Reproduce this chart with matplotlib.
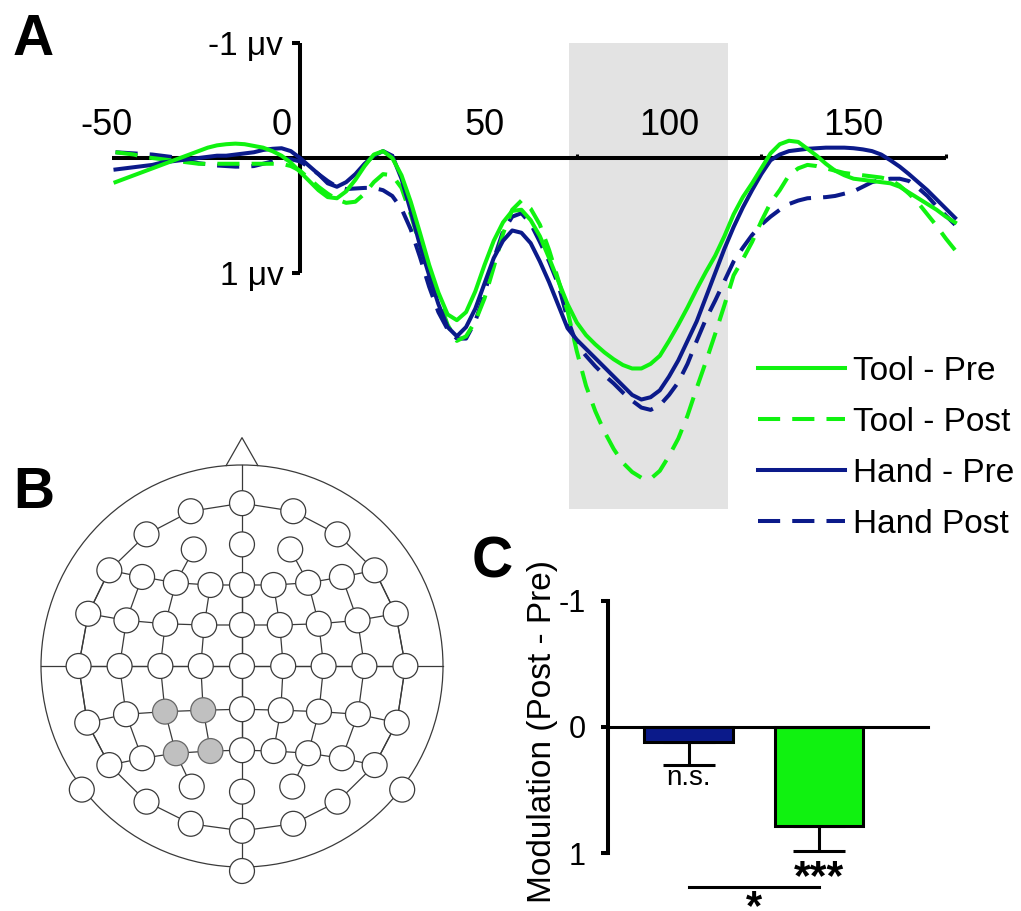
import matplotlib
matplotlib.use('Agg')
import matplotlib.pyplot as plt
import matplotlib.transforms as mtrans
import numpy as np
from matplotlib.patches import Circle

plt.rcParams['font.family'] = ['Liberation Sans', 'DejaVu Sans']
plt.rcParams['axes.unicode_minus'] = False

GREEN = '#10f210'
NAVY = '#0b1a8a'
HEAD_LINE = '#3a3a3a'

# ---------------- panel A: ERP waveforms (ms, uV, positive down) ----------------
times = np.arange(-50, 180, 2.5)

tool_pre = [0.21, 0.18, 0.15, 0.12, 0.09, 0.06, 0.03, 0.00, -0.03, -0.06,
            -0.09, -0.11, -0.12, -0.125, -0.12, -0.105, -0.09, -0.06, -0.02, 0.04,
            0.12, 0.20, 0.28, 0.34, 0.35, 0.29, 0.19, 0.07, -0.03, -0.06,
            0.00, 0.15, 0.38, 0.65, 0.93, 1.17, 1.36, 1.41, 1.34, 1.16,
            0.93, 0.72, 0.56, 0.46, 0.45, 0.54, 0.68, 0.87, 1.07, 1.27,
            1.43, 1.54, 1.62, 1.69, 1.75, 1.80, 1.83, 1.83, 1.79, 1.72,
            1.59, 1.45, 1.30, 1.14, 0.99, 0.85, 0.68, 0.49, 0.34, 0.22,
            0.09, -0.04, -0.12, -0.15, -0.14, -0.08, -0.02, 0.05, 0.11, 0.15,
            0.18, 0.19, 0.20, 0.21, 0.22, 0.25, 0.30, 0.35, 0.40, 0.45,
            0.51, 0.56]

tool_post = [-0.05, -0.04, -0.03, -0.01, 0.00, 0.01, 0.02, 0.03, 0.04, 0.05,
             0.05, 0.05, 0.05, 0.05, 0.05, 0.05, 0.05, 0.05, 0.05, 0.07,
             0.11, 0.18, 0.25, 0.31, 0.36, 0.39, 0.38, 0.31, 0.21, 0.14,
             0.15, 0.26, 0.49, 0.76, 0.99, 1.22, 1.45, 1.59, 1.55, 1.42,
             1.22, 0.95, 0.66, 0.45, 0.37, 0.44, 0.58, 0.80, 1.06, 1.33,
             1.68, 1.98, 2.20, 2.38, 2.53, 2.65, 2.73, 2.78, 2.79, 2.72,
             2.59, 2.44, 2.24, 2.00, 1.77, 1.53, 1.28, 1.02, 0.88, 0.73,
             0.55, 0.39, 0.28, 0.15, 0.09, 0.06, 0.07, 0.09, 0.11, 0.13,
             0.14, 0.15, 0.16, 0.17, 0.19, 0.24, 0.31, 0.39, 0.49, 0.59,
             0.70, 0.80]

hand_pre = [0.10, 0.09, 0.08, 0.07, 0.06, 0.04, 0.03, 0.02, 0.01, 0.00,
            -0.01, -0.02, -0.02, -0.03, -0.04, -0.05, -0.07, -0.08, -0.085, -0.06,
            0.00, 0.07, 0.14, 0.22, 0.25, 0.21, 0.14, 0.05, -0.02, -0.06,
            -0.02, 0.18, 0.46, 0.76, 1.02, 1.27, 1.47, 1.55, 1.47, 1.31,
            1.09, 0.87, 0.72, 0.63, 0.65, 0.74, 0.90, 1.08, 1.28, 1.48,
            1.58, 1.66, 1.74, 1.82, 1.90, 1.98, 2.06, 2.10, 2.08, 2.02,
            1.90, 1.76, 1.59, 1.42, 1.21, 1.00, 0.79, 0.60, 0.43, 0.28,
            0.14, 0.02, -0.03, -0.06, -0.07, -0.08, -0.085, -0.09, -0.09, -0.09,
            -0.085, -0.075, -0.06, -0.03, 0.02, 0.075, 0.14, 0.21, 0.28, 0.36,
            0.44, 0.52]

hand_post = [-0.05, -0.045, -0.04, -0.035, -0.03, -0.02, -0.01, 0.01, 0.03, 0.045,
             0.055, 0.065, 0.07, 0.075, 0.075, 0.07, 0.05, 0.03, 0.01, 0.01,
             0.03, 0.08, 0.14, 0.20, 0.25, 0.27, 0.265, 0.26, 0.26, 0.28,
             0.33, 0.44, 0.62, 0.86, 1.12, 1.34, 1.49, 1.57, 1.57, 1.42,
             1.18, 0.88, 0.64, 0.51, 0.48, 0.57, 0.73, 0.90, 1.10, 1.40,
             1.62, 1.72, 1.81, 1.89, 1.96, 2.04, 2.11, 2.17, 2.19, 2.15,
             2.06, 1.95, 1.79, 1.59, 1.40, 1.24, 1.07, 0.90, 0.78, 0.67,
             0.58, 0.51, 0.45, 0.40, 0.37, 0.35, 0.345, 0.34, 0.33, 0.31,
             0.29, 0.25, 0.21, 0.19, 0.18, 0.18, 0.20, 0.26, 0.33, 0.42,
             0.50, 0.58]

window_ms = [73, 116]      # shaded analysis window
window_uv = (-1.0, 3.05)

# ---------------- panel B: 64-channel montage (head radius = 1) ----------------
left_sites = {
    'Fp1': (-0.255, 0.77), 'AF7': (-0.475, 0.655), 'AF3': (-0.24, 0.58),
    'F7': (-0.66, 0.476), 'F5': (-0.497, 0.443), 'F3': (-0.329, 0.414), 'F1': (-0.157, 0.403),
    'FT7': (-0.765, 0.26), 'FC5': (-0.575, 0.227), 'FC3': (-0.382, 0.21), 'FC1': (-0.188, 0.204),
    'T7': (-0.813, 0.0), 'C5': (-0.609, 0.0), 'C3': (-0.406, 0.0), 'C1': (-0.205, 0.0),
    'TP7': (-0.77, -0.282), 'CP5': (-0.577, -0.24), 'CP3': (-0.383, -0.227), 'CP1': (-0.193, -0.22),
    'P7': (-0.66, -0.493), 'P5': (-0.497, -0.459), 'P3': (-0.329, -0.434), 'P1': (-0.157, -0.423),
    'P9': (-0.797, -0.615), 'PO7': (-0.475, -0.675), 'PO3': (-0.25, -0.60), 'O1': (-0.255, -0.785),
}
mid_sites = {
    'Fpz': (0, 0.81), 'AFz': (0, 0.605), 'Fz': (0, 0.403), 'FCz': (0, 0.204), 'Cz': (0, 0.0),
    'CPz': (0, -0.215), 'Pz': (0, -0.419), 'POz': (0, -0.625), 'Oz': (0, -0.82), 'Iz': (0, -1.02),
}
selected = ['CP3', 'CP1', 'P3', 'P1']

rows = [['F7', 'F5', 'F3', 'F1', 'Fz', 'F2', 'F4', 'F6', 'F8'],
        ['FT7', 'FC5', 'FC3', 'FC1', 'FCz', 'FC2', 'FC4', 'FC6', 'FT8'],
        ['T7', 'C5', 'C3', 'C1', 'Cz', 'C2', 'C4', 'C6', 'T8'],
        ['TP7', 'CP5', 'CP3', 'CP1', 'CPz', 'CP2', 'CP4', 'CP6', 'TP8'],
        ['P7', 'P5', 'P3', 'P1', 'Pz', 'P2', 'P4', 'P6', 'P8']]
ring = ['F8', 'AF8', 'Fp2', 'Fpz', 'Fp1', 'AF7', 'F7', 'FT7', 'T7', 'TP7', 'P7', 'PO7',
        'O1', 'Oz', 'O2', 'PO8', 'P8', 'TP8', 'T8', 'FT8', 'F8']
links = [['AF3', 'F3'], ['AF4', 'F4'], ['P3', 'PO3'], ['P4', 'PO4']]

# ---------------- panel C: modulation bars ----------------
conditions = ['Hand', 'Tool']
modulation = [0.12, 0.785]
modulation_sem = [0.18, 0.20]
stars = ['n.s.', '***']
pair_star = '*'


def mirror(name):
    base = name.rstrip('0123456789')
    return base + str(int(name[len(base):]) + 1)


W, H = 1021, 911
fig = plt.figure(figsize=(W / 100, H / 100), dpi=100)


def px_axes(x0, y0, x1, y1):
    a = fig.add_axes([x0 / W, 1 - y1 / H, (x1 - x0) / W, (y1 - y0) / H])
    a.patch.set_visible(False)
    return a


def px_shift(dx, dy):
    return mtrans.ScaledTranslation(dx / 100, -dy / 100, fig.dpi_scale_trans)


# ---- A
ax = px_axes(100, 30, 965, 515)
ax.set_xlim(-54.2, 180.2)
ax.set_ylim(3.104, -1.113)
ax.fill_between(window_ms, window_uv[0], window_uv[1], color='#e3e3e3', lw=0, zorder=0)

dash = (0, (5.5, 3))
l_hpost, = ax.plot(times, hand_post, color=NAVY, lw=2.9, ls=dash, zorder=3)
l_tpost, = ax.plot(times, tool_post, color=GREEN, lw=2.9, ls=dash, zorder=3)
l_hpre, = ax.plot(times, hand_pre, color=NAVY, lw=2.9, zorder=3)
l_tpre, = ax.plot(times, tool_pre, color=GREEN, lw=2.9, zorder=3)

for s in ['bottom', 'right']:
    ax.spines[s].set_visible(False)
ax.spines['top'].set_position(('data', 0))
ax.spines['top'].set_bounds(-51, 175)
ax.spines['left'].set_position(('data', 0))
ax.spines['left'].set_bounds(-1, 1)
for s in ['top', 'left']:
    ax.spines[s].set_linewidth(2.9)
    ax.spines[s].set_capstyle('butt')

ax.xaxis.tick_top()
ax.set_xticks([-50, 0, 50, 100, 150])
ax.set_xticks(np.arange(25, 176, 25), minor=True)
ax.tick_params(axis='x', which='major', length=0, pad=11, labelsize=26)
ax.tick_params(axis='x', which='minor', length=3, width=2.2, direction='out')
ax.set_yticks([-1, 1])
ax.set_yticklabels(['-1 μv', '1 μv'])
ax.tick_params(axis='y', length=6, width=2.9, pad=6, labelsize=24)

xl = ax.get_xticklabels()
xl[0].set_transform(xl[0].get_transform() + px_shift(-9, 0))
xl[1].set_horizontalalignment('right')
xl[1].set_transform(xl[1].get_transform() + px_shift(-8, 0))

ax.legend([l_tpre, l_tpost, l_hpre, l_hpost], ['Tool - Pre', 'Tool - Post', 'Hand - Pre', 'Hand Post'],
          loc='upper left', bbox_to_anchor=(758 / W, 1 - 356 / H), bbox_transform=fig.transFigure,
          frameon=False, fontsize=24, handlelength=2.6, handletextpad=0.25, labelspacing=0.6,
          borderpad=0, borderaxespad=0)

# ---- B
axb = px_axes(20.9, 424.8, 463.1, 887.1)
axb.set_xlim(-1.1, 1.1)
axb.set_ylim(-1.1, 1.2)
axb.axis('off')

sites = dict(mid_sites)
for k, v in left_sites.items():
    sites[k] = v
    sites[mirror(k)] = (-v[0], v[1])

axb.add_patch(Circle((0, 0), 1, fill=False, ec=HEAD_LINE, lw=0.9))
axb.plot([-0.079, 0, 0.079], [0.997, 1.136, 0.997], color=HEAD_LINE, lw=0.9)
axb.plot([-1, 1], [0, 0], color=HEAD_LINE, lw=0.9)
axb.plot([0, 0], [1, sites['Iz'][1]], color=HEAD_LINE, lw=0.9)
for chain in rows + [ring] + links + [list(c) for c in zip(*rows)]:
    axb.plot([sites[n][0] for n in chain], [sites[n][1] for n in chain], color=HEAD_LINE, lw=0.9)
for n, (u, v) in sites.items():
    hi = n in selected
    axb.add_patch(Circle((u, v), 0.062, fc='#c0c0c0' if hi else 'white',
                         ec='#666666' if hi else HEAD_LINE, lw=0.9, zorder=3))

# ---- C
axc = px_axes(560, 560, 960, 911)
x = np.arange(len(conditions))
axc.set_xlim(-0.985, 2.08)
axc.set_ylim(1.46, -1.325)
axc.bar(x, modulation, width=0.68, color=[NAVY, GREEN], edgecolor='black', lw=2.2, zorder=2)
axc.errorbar(x, modulation, yerr=[np.zeros(len(x)), modulation_sem], fmt='none', ecolor='black',
             elinewidth=2.2, capsize=19, capthick=2.2, zorder=1)

for s in ['top', 'right']:
    axc.spines[s].set_visible(False)
axc.spines['left'].set_position(('data', -0.617))
axc.spines['left'].set_bounds(-1, 1)
axc.spines['left'].set_linewidth(2.9)
axc.spines['bottom'].set_position(('data', 0))
axc.spines['bottom'].set_bounds(-0.617, 1.835)
axc.spines['bottom'].set_linewidth(2.2)
axc.set_xticks([])
axc.set_yticks([-1, 0, 1])
axc.set_yticklabels(['-1', '0', '1'])
axc.tick_params(axis='y', length=5, width=2.9, pad=11, labelsize=22)
axc.set_ylabel('Modulation (Post - Pre)', fontsize=24)
axc.yaxis.set_label_coords(-0.005, 0.51)

for xi, m, e, s in zip(x, modulation, modulation_sem, stars):
    if s == 'n.s.':
        axc.text(xi, m + e, s, ha='center', va='top', fontsize=20)
    else:
        t = axc.text(xi, m + e, s, ha='center', va='top', fontsize=31, fontweight='bold')
        t.set_transform(axc.transData + px_shift(0, 7))
axc.plot([x[0], x[1]], [1.27, 1.27], color='black', lw=2.2, clip_on=False)
t = axc.text(x.mean(), 1.27, pair_star, ha='center', va='top', fontsize=30, fontweight='bold')
t.set_transform(axc.transData + px_shift(0, 1))

# panel letters
for letter, px, py in [('A', 13, 55), ('B', 13, 508), ('C', 472, 577)]:
    fig.text(px / W, 1 - py / H, letter, fontsize=41, fontweight='bold', va='baseline', ha='left')

fig.savefig('out.png', dpi=100)
